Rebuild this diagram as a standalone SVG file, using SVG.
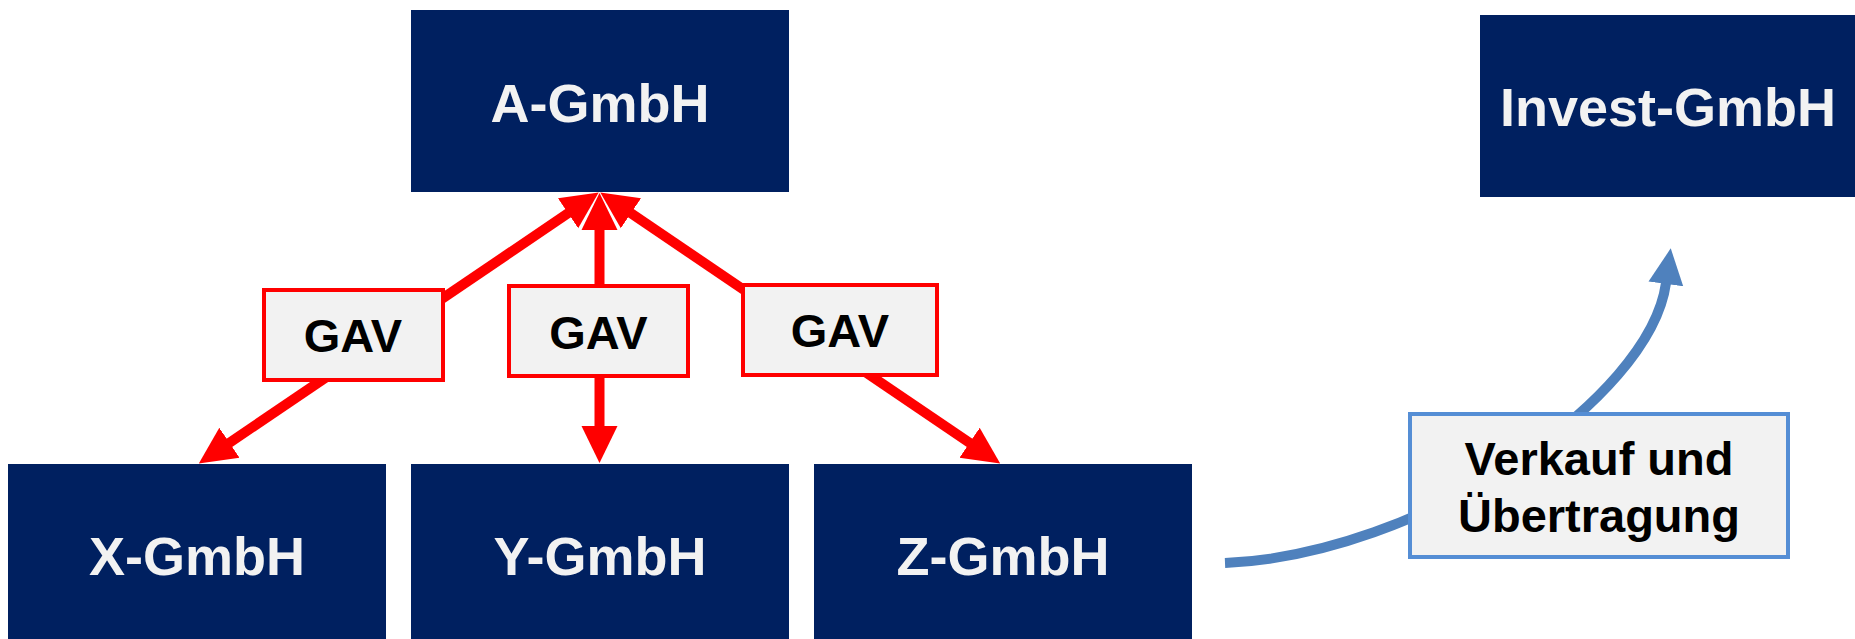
<svg xmlns="http://www.w3.org/2000/svg" width="1855" height="639" viewBox="0 0 1855 639">
<style>
.co{fill:#002060}
.ct{font-family:"Liberation Sans",Arial,sans-serif;font-weight:bold;font-size:54px;fill:#F2F2F2;text-anchor:middle}
.gav rect{fill:#F2F2F2;stroke:#FF0000;stroke-width:4}
.lt{font-family:"Liberation Sans",Arial,sans-serif;font-weight:bold;font-size:47px;fill:#000;text-anchor:middle}
.red{stroke:#FF0000;stroke-width:10;fill:none}
.blue{stroke:#4F81BD;stroke-width:10;fill:none}
</style>
<defs>
<marker id="ah" markerUnits="userSpaceOnUse" markerWidth="40" markerHeight="40" viewBox="0 -20 40 40" refX="1" refY="0" orient="auto-start-reverse">
<path d="M0,-18 L37,0 L0,18 Z" fill="#FF0000"/>
</marker>
<marker id="bh" markerUnits="userSpaceOnUse" markerWidth="40" markerHeight="40" viewBox="0 -20 40 40" refX="1" refY="0" orient="auto">
<path d="M0,-17.5 L36,0 L0,17.5 Z" fill="#4F81BD"/>
</marker>
</defs>
<g id="nodeA"><rect class="co" x="411" y="10" width="378" height="182"/><text class="ct" x="600" y="122">A-GmbH</text></g>
<g id="nodeInvest"><rect class="co" x="1480" y="15" width="375" height="182"/><text class="ct" x="1668" y="126">Invest-GmbH</text></g>
<g id="nodeX"><rect class="co" x="8" y="464" width="378" height="175"/><text class="ct" x="197" y="575">X-GmbH</text></g>
<g id="nodeY"><rect class="co" x="411" y="464" width="378" height="175"/><text class="ct" x="600" y="575">Y-GmbH</text></g>
<g id="nodeZ"><rect class="co" x="814" y="464" width="378" height="175"/><text class="ct" x="1003" y="575">Z-GmbH</text></g>
<g id="connectors">
<line class="red" x1="228.6" y1="443.3" x2="568.9" y2="212.7" marker-start="url(#ah)" marker-end="url(#ah)"/>
<line class="red" x1="599.5" y1="427" x2="599.5" y2="229" marker-start="url(#ah)" marker-end="url(#ah)"/>
<line class="red" x1="970.4" y1="443.3" x2="630.1" y2="212.7" marker-start="url(#ah)" marker-end="url(#ah)"/>
<path class="blue" d="M1225,563 C1420,555 1650,400 1666,283" marker-end="url(#bh)"/>
</g>
<g id="gav1" class="gav"><rect x="264" y="290" width="179" height="90"/><text class="lt" x="353" y="352">GAV</text></g>
<g id="gav2" class="gav"><rect x="509" y="286" width="179" height="90"/><text class="lt" x="598.5" y="349">GAV</text></g>
<g id="gav3" class="gav"><rect x="743" y="285" width="194" height="90"/><text class="lt" x="840" y="347">GAV</text></g>
<g id="verkauf"><rect x="1410" y="414" width="378" height="143" fill="#F2F2F2" stroke="#558ED5" stroke-width="4"/><text class="lt" x="1599" y="475">Verkauf und</text><text class="lt" x="1599" y="532">Übertragung</text></g>
</svg>
